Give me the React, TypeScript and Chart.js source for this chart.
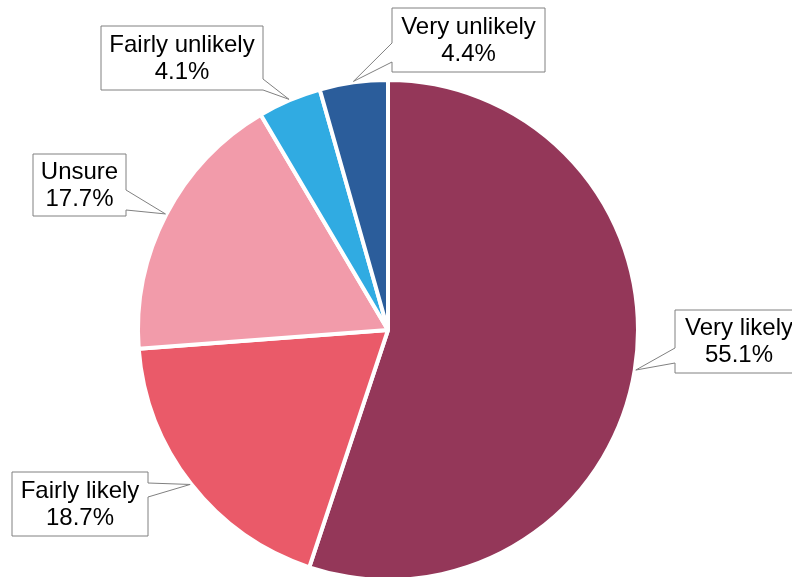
import React, { useEffect, useRef } from "react";
import { Chart, registerables } from "chart.js";

Chart.register(...registerables);

const categories = ["Very likely", "Fairly likely", "Unsure", "Fairly unlikely", "Very unlikely"];
const shares = [55.1, 18.7, 17.7, 4.1, 4.4];
const sliceColors = ["#943759", "#EA5A69", "#F29BAA", "#30ABE2", "#2B5D9B"];

// Callout box layout (pixels): box rect, side the pointer leaves from, and pointer base y-range
const calloutLayout = [
  { x: 675, y: 310, w: 128, h: 63, side: "left", a0: 348, a1: 363 },
  { x: 12, y: 472, w: 136, h: 64, side: "right", a0: 483, a1: 497 },
  { x: 33, y: 154, w: 93, h: 62, side: "right", a0: 190, a1: 210 },
  { x: 101, y: 26, w: 162, h: 64, side: "right", a0: 79, a1: 90 },
  { x: 392, y: 8, w: 153, h: 64, side: "left", a0: 43, a1: 62 },
];

const calloutPlugin = {
  id: "callouts",
  afterDatasetsDraw(chart: any) {
    const ctx = chart.ctx;
    const meta = chart.getDatasetMeta(0);
    meta.data.forEach((arc: any, i: number) => {
      const L = calloutLayout[i];
      if (!L) return;
      const mid = (arc.startAngle + arc.endAngle) / 2;
      const r = arc.outerRadius + 1;
      const tx = arc.x + Math.cos(mid) * r;
      const ty = arc.y + Math.sin(mid) * r;
      const { x, y, w, h } = L;
      ctx.save();
      ctx.beginPath();
      if (L.side === "right") {
        ctx.moveTo(x, y);
        ctx.lineTo(x + w, y);
        ctx.lineTo(x + w, L.a0);
        ctx.lineTo(tx, ty);
        ctx.lineTo(x + w, L.a1);
        ctx.lineTo(x + w, y + h);
        ctx.lineTo(x, y + h);
      } else {
        ctx.moveTo(x, y);
        ctx.lineTo(x + w, y);
        ctx.lineTo(x + w, y + h);
        ctx.lineTo(x, y + h);
        ctx.lineTo(x, L.a1);
        ctx.lineTo(tx, ty);
        ctx.lineTo(x, L.a0);
      }
      ctx.closePath();
      ctx.fillStyle = "#ffffff";
      ctx.fill();
      ctx.strokeStyle = "#808080";
      ctx.lineWidth = 1;
      ctx.stroke();
      ctx.fillStyle = "#000000";
      ctx.font = "24px 'Liberation Sans', Arial, sans-serif";
      ctx.textAlign = "center";
      ctx.textBaseline = "middle";
      const cx = x + w / 2;
      const cy = y + h / 2;
      ctx.fillText(categories[i], cx, cy - 13);
      ctx.fillText(shares[i].toFixed(1) + "%", cx, cy + 14);
      ctx.restore();
    });
  },
};

export default function App() {
  const ref = useRef<HTMLCanvasElement>(null);
  useEffect(() => {
    if (!ref.current) return;
    const chart = new Chart(ref.current, {
      type: "pie",
      data: {
        labels: categories,
        datasets: [
          {
            data: shares,
            backgroundColor: sliceColors,
            borderColor: "#ffffff",
            borderWidth: 4,
          },
        ],
      },
      options: {
        responsive: false,
        animation: false,
        devicePixelRatio: 1,
        radius: 250,
        layout: { padding: { top: 83, bottom: 0, left: 0, right: 16 } },
        plugins: { legend: { display: false }, tooltip: { enabled: false } },
      } as any,
      plugins: [calloutPlugin],
    });
    return () => chart.destroy();
  }, []);
  return (
    <div style={{ position: "absolute", left: 0, top: 0, width: 792, height: 577, overflow: "hidden", background: "#fff" }}>
      <canvas ref={ref} width={792} height={577} />
    </div>
  );
}
